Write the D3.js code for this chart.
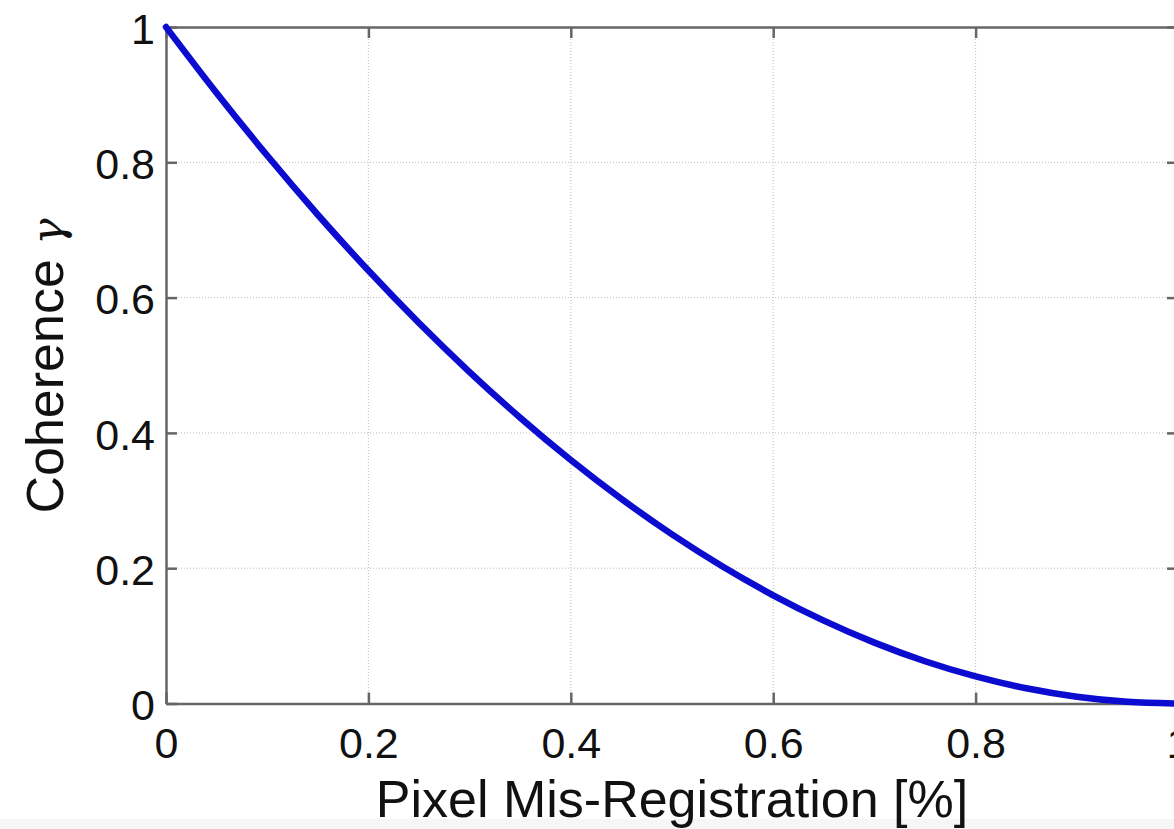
<!DOCTYPE html>
<html>
<head>
<meta charset="utf-8">
<script src="https://cdn.jsdelivr.net/npm/d3@7"></script>
<style>
  html, body { margin: 0; padding: 0; background: #ffffff; overflow: hidden; }
  svg { display: block; }
</style>
</head>
<body>
<svg id="chart" width="1174" height="829"></svg>
<script>
// Pixel mis-registration (fraction of a pixel) against coherence
const misRegistration = [0, 0.05, 0.1, 0.15, 0.2, 0.25, 0.3, 0.35, 0.4, 0.45, 0.5,
                         0.55, 0.6, 0.65, 0.7, 0.75, 0.8, 0.85, 0.9, 0.95, 1.0];
const coherence = [1.0, 0.9025, 0.81, 0.7225, 0.64, 0.5625, 0.49, 0.4225, 0.36, 0.3025, 0.25,
                   0.2025, 0.16, 0.1225, 0.09, 0.0625, 0.04, 0.0225, 0.01, 0.0025, 0.0];
const xTicks = [0, 0.2, 0.4, 0.6, 0.8, 1];
const yTicks = [0, 0.2, 0.4, 0.6, 0.8, 1];
const xTickLabels = ["0", "0.2", "0.4", "0.6", "0.8", "1"];
const yTickLabels = ["0", "0.2", "0.4", "0.6", "0.8", "1"];

const svg = d3.select("#chart");
const plotLeft = 166, plotRight = 1178, plotTop = 27, plotBottom = 703.5;
const font = "'Liberation Sans', Arial, Helvetica, sans-serif";

const x = d3.scaleLinear().domain([0, 1]).range([plotLeft, plotRight]);
const y = d3.scaleLinear().domain([0, 1]).range([plotBottom, plotTop]);

// faint strip along the lower edge
svg.append("rect").attr("x", 0).attr("y", 819).attr("width", 1174).attr("height", 10)
  .attr("fill", "#f6f6f6");

// dotted grid
const grid = svg.append("g").attr("stroke", "#bdbdbd").attr("stroke-width", 1)
  .attr("stroke-dasharray", "1,2");
grid.selectAll("line.gx").data(xTicks.slice(1, -1)).join("line").attr("class", "gx")
  .attr("x1", d => x(d)).attr("x2", d => x(d)).attr("y1", plotTop).attr("y2", plotBottom);
grid.selectAll("line.gy").data(yTicks.slice(1, -1)).join("line").attr("class", "gy")
  .attr("x1", plotLeft).attr("x2", plotRight).attr("y1", d => y(d)).attr("y2", d => y(d));

// axes on all four sides, ticks pointing inward
const axisColor = "#666";
const tickLen = 11;
function styleAxis(g) {
  g.select(".domain").attr("stroke", axisColor).attr("stroke-width", 2.5);
  g.selectAll(".tick line").attr("stroke", axisColor).attr("stroke-width", 2.5);
  g.selectAll(".tick text").attr("fill", "#111").attr("font-family", font).attr("font-size", 43);
}

svg.append("g").attr("transform", `translate(0,${plotBottom})`)
  .call(d3.axisBottom(x).tickValues(xTicks).tickFormat((d, i) => xTickLabels[i])
    .tickSizeInner(-tickLen).tickSizeOuter(0).tickPadding(24))
  .call(styleAxis)
  .call(g => g.selectAll(".tick text").attr("dy", "0.71em"));

svg.append("g").attr("transform", `translate(${plotLeft},0)`)
  .call(d3.axisLeft(y).tickValues(yTicks).tickFormat((d, i) => yTickLabels[i])
    .tickSizeInner(-tickLen).tickSizeOuter(0).tickPadding(11))
  .call(styleAxis)
  .call(g => g.selectAll(".tick text").attr("dy", "0.38em"));

svg.append("g").attr("transform", `translate(0,${plotTop})`)
  .call(d3.axisTop(x).tickValues(xTicks).tickFormat("")
    .tickSizeInner(-tickLen).tickSizeOuter(0))
  .call(styleAxis);

svg.append("g").attr("transform", `translate(${plotRight},0)`)
  .call(d3.axisRight(y).tickValues(yTicks).tickFormat("")
    .tickSizeInner(-tickLen).tickSizeOuter(0))
  .call(styleAxis);

// coherence curve
const line = d3.line()
  .x((d, i) => x(misRegistration[i]))
  .y(d => y(d))
  .curve(d3.curveMonotoneX);

svg.append("path").datum(coherence)
  .attr("fill", "none")
  .attr("stroke", "#0c0cd0")
  .attr("stroke-width", 6.5)
  .attr("stroke-linejoin", "round")
  .attr("stroke-linecap", "round")
  .attr("d", line);

// axis titles
svg.append("text")
  .attr("x", (plotLeft + plotRight) / 2).attr("y", 817)
  .attr("text-anchor", "middle")
  .attr("font-family", font).attr("font-size", 52).attr("fill", "#111")
  .text("Pixel Mis-Registration [%]");

const yTitle = svg.append("text")
  .attr("transform", "translate(63,366) rotate(-90)")
  .attr("text-anchor", "middle")
  .attr("font-family", font).attr("font-size", 52).attr("fill", "#111");
yTitle.append("tspan").text("Coherence ");
yTitle.append("tspan").attr("font-family", "'DejaVu Serif', 'Liberation Serif', serif")
  .attr("font-style", "italic").attr("font-size", 44).text("γ");
</script>
</body>
</html>
